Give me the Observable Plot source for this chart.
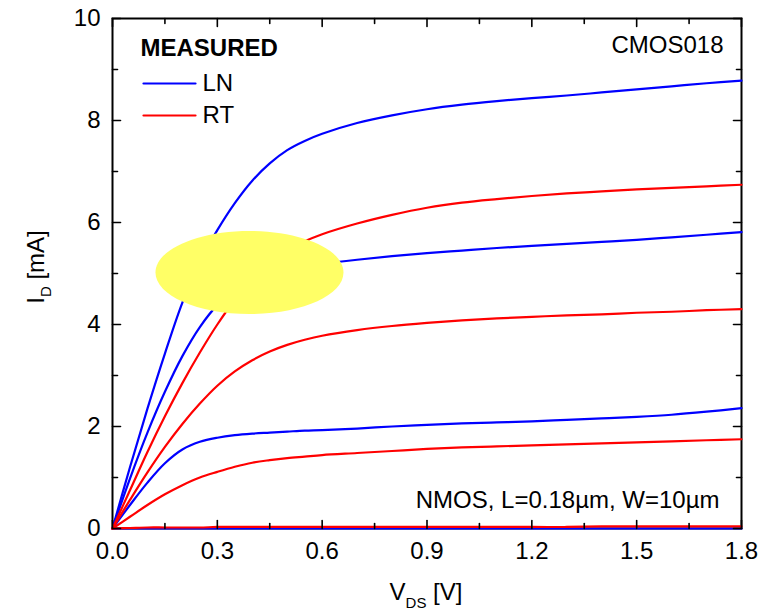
<!DOCTYPE html>
<html>
<head>
<meta charset="utf-8">
<script src="https://cdn.jsdelivr.net/npm/d3@7"></script>
<script src="https://cdn.jsdelivr.net/npm/@observablehq/plot@0.6"></script>
<style>
  body { margin: 0; background: #fff; }
  svg { font-family: "Liberation Sans", Arial, sans-serif; }
</style>
</head>
<body>
<div id="chart"></div>
<script>
// ---- data ----
const vds = [0, 0.05, 0.1, 0.15, 0.2, 0.25, 0.3, 0.35, 0.4, 0.45, 0.5, 0.55, 0.6, 0.7, 0.8, 0.9, 1.0, 1.1, 1.2, 1.3, 1.4, 1.5, 1.6, 1.7, 1.8];

const ln1 = [0, 1.2, 2.35, 3.43, 4.43, 5.23, 5.85, 6.38, 6.82, 7.16, 7.42, 7.6, 7.74, 7.95, 8.1, 8.22, 8.31, 8.38, 8.44, 8.49, 8.55, 8.61, 8.67, 8.73, 8.78];
const ln2 = [0, 0.98, 1.88, 2.68, 3.38, 3.95, 4.38, 4.66, 4.86, 4.99, 5.08, 5.14, 5.19, 5.27, 5.34, 5.4, 5.45, 5.5, 5.54, 5.58, 5.62, 5.66, 5.71, 5.76, 5.81];
const ln3 = [0, 0.46, 0.9, 1.28, 1.55, 1.7, 1.78, 1.83, 1.86, 1.88, 1.9, 1.92, 1.93, 1.96, 2.0, 2.03, 2.06, 2.08, 2.1, 2.13, 2.16, 2.19, 2.23, 2.29, 2.36];
const ln4 = [0, 0, 0, 0, 0, 0, 0, 0, 0, 0, 0, 0, 0, 0, 0, 0, 0, 0, 0, 0, 0, 0, 0, 0, 0];

const rt1 = [0, 0.75, 1.5, 2.2, 2.85, 3.45, 4.0, 4.48, 4.88, 5.2, 5.45, 5.63, 5.77, 5.98, 6.15, 6.29, 6.39, 6.46, 6.52, 6.57, 6.61, 6.65, 6.68, 6.71, 6.74];
const rt2 = [0, 0.56, 1.1, 1.6, 2.05, 2.45, 2.8, 3.08, 3.3, 3.47, 3.6, 3.7, 3.78, 3.89, 3.97, 4.03, 4.08, 4.12, 4.15, 4.18, 4.2, 4.23, 4.25, 4.28, 4.3];
const rt3 = [0, 0.23, 0.46, 0.67, 0.85, 1.0, 1.11, 1.21, 1.29, 1.34, 1.38, 1.41, 1.44, 1.48, 1.52, 1.56, 1.59, 1.61, 1.63, 1.65, 1.67, 1.69, 1.71, 1.73, 1.75];
const rt4 = [0, 0.01, 0.02, 0.02, 0.02, 0.02, 0.03, 0.03, 0.03, 0.03, 0.03, 0.03, 0.03, 0.03, 0.03, 0.03, 0.03, 0.03, 0.03, 0.03, 0.04, 0.04, 0.04, 0.04, 0.04];

const seriesNames = ["LN", "RT"];
const seriesColors = ["#0000ff", "#ff0000"];
const lnCurves = [ln1, ln2, ln3, ln4];
const rtCurves = [rt1, rt2, rt3, rt4];

const xMajor = [0, 0.3, 0.6, 0.9, 1.2, 1.5, 1.8];
const xMinor = [0.15, 0.45, 0.75, 1.05, 1.35, 1.65];
const yMajor = [0, 2, 4, 6, 8, 10];
const yMinor = [1, 3, 5, 7, 9];

const highlightCenter = [{vds: 0.392, id: 5.02}];

// ---- build table ----
function rows(curves, group) {
  const out = [];
  curves.forEach((ys, i) => ys.forEach((y, j) => out.push({group, curve: group + (i + 1), vds: vds[j], id: y})));
  return out;
}
const lnRows = rows(lnCurves, "LN");
const rtRows = rows(rtCurves, "RT");

// ---- shapes ----
const lineShape = {draw(c, l) { c.moveTo(0, 0); c.lineTo(0, -l); }};
const ellipseShape = {draw(c) {
  const a = 94, b = 41.5, k = 0.5523, kx = a * k, ky = b * k;
  c.moveTo(a, 0);
  c.bezierCurveTo(a, ky, kx, b, 0, b);
  c.bezierCurveTo(-kx, b, -a, ky, -a, 0);
  c.bezierCurveTo(-a, -ky, -kx, -b, 0, -b);
  c.bezierCurveTo(kx, -b, a, -ky, a, 0);
  c.closePath();
}};

const tickStyle = {anchor: "start", shape: lineShape, stroke: "black", strokeWidth: 1.6};

const chart = Plot.plot({
  width: 773,
  height: 615,
  marginLeft: 112,
  marginRight: 32,
  marginTop: 18,
  marginBottom: 87,
  style: {fontFamily: "Liberation Sans, Arial, sans-serif", fontSize: "24px", background: "white", color: "black"},
  x: {domain: [0, 1.8]},
  y: {domain: [0, 10]},
  marks: [
    Plot.frame({stroke: "black", strokeWidth: 2}),
    Plot.line(lnRows, {x: "vds", y: "id", z: "curve", stroke: seriesColors[0], strokeWidth: 2.2, curve: "catmull-rom"}),
    Plot.line(rtRows, {x: "vds", y: "id", z: "curve", stroke: seriesColors[1], strokeWidth: 2.2, curve: "catmull-rom"}),
    Plot.dot(highlightCenter, {x: "vds", y: "id", symbol: ellipseShape, fill: "#ffff66", stroke: "none"}),
    // inward ticks on all four sides
    Plot.vector(xMajor, {x: d => d, frameAnchor: "bottom", rotate: 0, length: 8, ...tickStyle}),
    Plot.vector(xMinor, {x: d => d, frameAnchor: "bottom", rotate: 0, length: 5, ...tickStyle}),
    Plot.vector(xMajor, {x: d => d, frameAnchor: "top", rotate: 180, length: 8, ...tickStyle}),
    Plot.vector(xMinor, {x: d => d, frameAnchor: "top", rotate: 180, length: 5, ...tickStyle}),
    Plot.vector(yMajor, {y: d => d, frameAnchor: "left", rotate: 90, length: 8, ...tickStyle}),
    Plot.vector(yMinor, {y: d => d, frameAnchor: "left", rotate: 90, length: 5, ...tickStyle}),
    Plot.vector(yMajor, {y: d => d, frameAnchor: "right", rotate: -90, length: 8, ...tickStyle}),
    Plot.vector(yMinor, {y: d => d, frameAnchor: "right", rotate: -90, length: 5, ...tickStyle}),
    Plot.axisX(xMajor, {tickSize: 0, tickPadding: 13, tickFormat: d => d.toFixed(1), fontSize: 24, label: null}),
    Plot.axisY(yMajor, {tickSize: 0, tickPadding: 12, tickFormat: d => String(d), fontSize: 24, label: null}),
    // legend
    Plot.text(["MEASURED"], {frameAnchor: "top-left", dx: 28, dy: 30, textAnchor: "start", lineAnchor: "middle", fontWeight: "bold", fontSize: 24}),
    Plot.vector([seriesNames[0]], {frameAnchor: "top-left", dx: 31, dy: 65, rotate: 90, length: 52, anchor: "start", shape: lineShape, stroke: seriesColors[0], strokeWidth: 2.2}),
    Plot.vector([seriesNames[1]], {frameAnchor: "top-left", dx: 31, dy: 97, rotate: 90, length: 52, anchor: "start", shape: lineShape, stroke: seriesColors[1], strokeWidth: 2.2}),
    Plot.text([seriesNames[0]], {frameAnchor: "top-left", dx: 90, dy: 65, textAnchor: "start", lineAnchor: "middle", fontSize: 24}),
    Plot.text([seriesNames[1]], {frameAnchor: "top-left", dx: 90, dy: 97, textAnchor: "start", lineAnchor: "middle", fontSize: 24}),
    // annotations
    Plot.text(["CMOS018"], {frameAnchor: "top-right", dx: -18, dy: 27, textAnchor: "end", lineAnchor: "middle", fontSize: 24}),
    Plot.text(["NMOS, L=0.18µm, W=10µm"], {frameAnchor: "bottom-right", dx: -22, dy: -28, textAnchor: "end", lineAnchor: "middle", fontSize: 24})
  ]
});

// axis titles with subscripts
const svg = d3.select(chart);
const xl = svg.append("text")
  .attr("x", 426).attr("y", 600)
  .attr("text-anchor", "middle")
  .attr("font-size", 24).attr("fill", "black");
xl.append("tspan").text("V");
xl.append("tspan").attr("font-size", 15).attr("dy", 8).text("DS");
xl.append("tspan").attr("dy", -8).text(" [V]");

const yl = svg.append("text")
  .attr("transform", "translate(44,267) rotate(-90)")
  .attr("text-anchor", "middle")
  .attr("font-size", 24).attr("fill", "black");
yl.append("tspan").text("I");
yl.append("tspan").attr("font-size", 15).attr("dy", 7).text("D");
yl.append("tspan").attr("dy", -7).text(" [mA]");

document.getElementById("chart").appendChild(chart);
</script>
</body>
</html>
